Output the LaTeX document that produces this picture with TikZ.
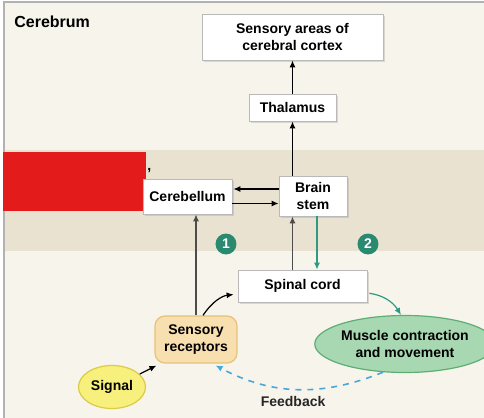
\documentclass[tikz,border=0pt]{standalone}
\usepackage{fontspec}
\setmainfont{Liberation Sans}
\usetikzlibrary{arrows.meta,shapes.geometric,shadows}
\definecolor{bgcream}{HTML}{F7F4EB}
\definecolor{bandtan}{HTML}{EAE2D0}
\definecolor{stepgreen}{HTML}{2A8A70}
\definecolor{motorgreen}{HTML}{2E9A82}
\definecolor{musclefill}{HTML}{A8D8B2}
\definecolor{muscleline}{HTML}{5DAE72}
\definecolor{recepfill}{HTML}{F8DFB0}
\definecolor{recepline}{HTML}{E6C27A}
\definecolor{signalfill}{HTML}{F8F07C}
\definecolor{signalline}{HTML}{DCCB45}
\definecolor{feedblue}{HTML}{4AA8D8}
\definecolor{redact}{HTML}{E31B1B}
\tikzset{
  label font/.style={font=\bfseries\fontsize{7}{8.5}\selectfont},
  region/.style={label font, draw=gray!55, fill=white, align=center, inner sep=0pt,
    drop shadow={shadow xshift=0.8pt, shadow yshift=-0.8pt, opacity=0.25}},
  blob/.style={label font, ellipse, align=center, inner sep=0pt, line width=0.6pt},
  stepnum/.style={circle, fill=stepgreen, text=white, font=\bfseries\fontsize{7}{8}\selectfont,
    minimum size=10.5pt, inner sep=0pt},
  path/.style={line width=0.6pt, -{Latex[length=3.5pt,width=3pt]}},
}
\begin{document}
\begin{tikzpicture}[x=0.5pt,y=-0.5pt]
    \useasboundingbox (0,0) rectangle (484,418);
    %% background and brain band
    \fill[bgcream] (4,2) rectangle (484,418);
    \fill[bandtan] (5,150) rectangle (484,251);
    \draw[gray!60,line width=0.8pt] (4,418) -- (4,2) -- (484,2);
    \node[anchor=base west,inner sep=0pt,font=\bfseries\fontsize{8}{9}\selectfont] (cerebrum) at (14,27) {Cerebrum};
    %% hidden label
    \fill[redact] (3,152) rectangle (146,211);
    \node[anchor=base west,inner sep=0pt,label font] (comma) at (147,170) {,};
    %% brain regions
    \node[region,minimum width=90.5pt,minimum height=23pt] (cortex) at (292.5,37) {Sensory areas of\\cerebral cortex};
    \node[region,minimum width=43.5pt,minimum height=13.5pt] (thal) at (292.5,107.5) {Thalamus};
    \node[region,minimum width=44.5pt,minimum height=17.5pt] (cereb) at (187.5,196.5) {Cerebellum};
    \node[region,minimum width=34pt,minimum height=20pt] (stem) at (313,196) {Brain\\stem};
    \node[region,minimum width=64.5pt,minimum height=16pt] (spinal) at (302.5,286) {Spinal cord};
    %% body side
    \node[blob,rectangle,rounded corners=5pt,draw=recepline,fill=recepfill,minimum width=41pt,minimum height=23.5pt] (recep) at (196,339.5) {Sensory\\receptors};
    \node[blob,draw=signalline,fill=signalfill,minimum width=33.5pt,minimum height=21.5pt] (signal) at (112,387) {Signal};
    \node[blob,draw=muscleline,fill=musclefill,minimum width=75.5pt,minimum height=28.5pt] (muscle) at (405,344) {Muscle contraction\\and movement};
    %% steps
    \node[stepnum] (one) at (226,244) {1};
    \node[stepnum] (two) at (368,244) {2};
    %% sensory paths
    \draw[path] (thal) -- (cortex);
    \draw[path] (thal.south |- stem.north) -- (thal.south);
    \draw[path,shorten >=0.5pt] ([yshift=3.5pt]stem.west) -- ([yshift=3.5pt]stem.west -| cereb.east);
    \draw[path] ([yshift=-3.5pt]cereb.east) -- ([yshift=-3.5pt]cereb.east -| stem.west);
    \draw[path,black!70] (recep.north) -- (recep.north |- cereb.south);
    \draw[path,black!70] (spinal.north -| thal.south) -- (thal.south |- stem.south);
    \draw[path] (signal.25) -- ([shift={(1pt,-1pt)}]recep.south west);
    \draw[path,shorten >=2pt] ([xshift=3.5pt]recep.north) to[bend left=25] ([yshift=-4pt]spinal.west);
    %% motor paths
    \draw[path,motorgreen] ([xshift=2pt]stem.south) -- ([xshift=2pt]stem.south |- spinal.north);
    \draw[path,motorgreen,shorten <=1pt] ([yshift=-3.5pt]spinal.east) to[bend left=25] ([xshift=-2pt]muscle.north);
    %% feedback
    \draw[path,feedblue,dashed,line width=0.8pt,shorten >=2pt] (muscle.232) to[bend left=25]
        node[below=0pt,text=black!85,label font,pos=0.52] (feedback) {Feedback} ([xshift=8pt]recep.south);
\end{tikzpicture}
\end{document}
